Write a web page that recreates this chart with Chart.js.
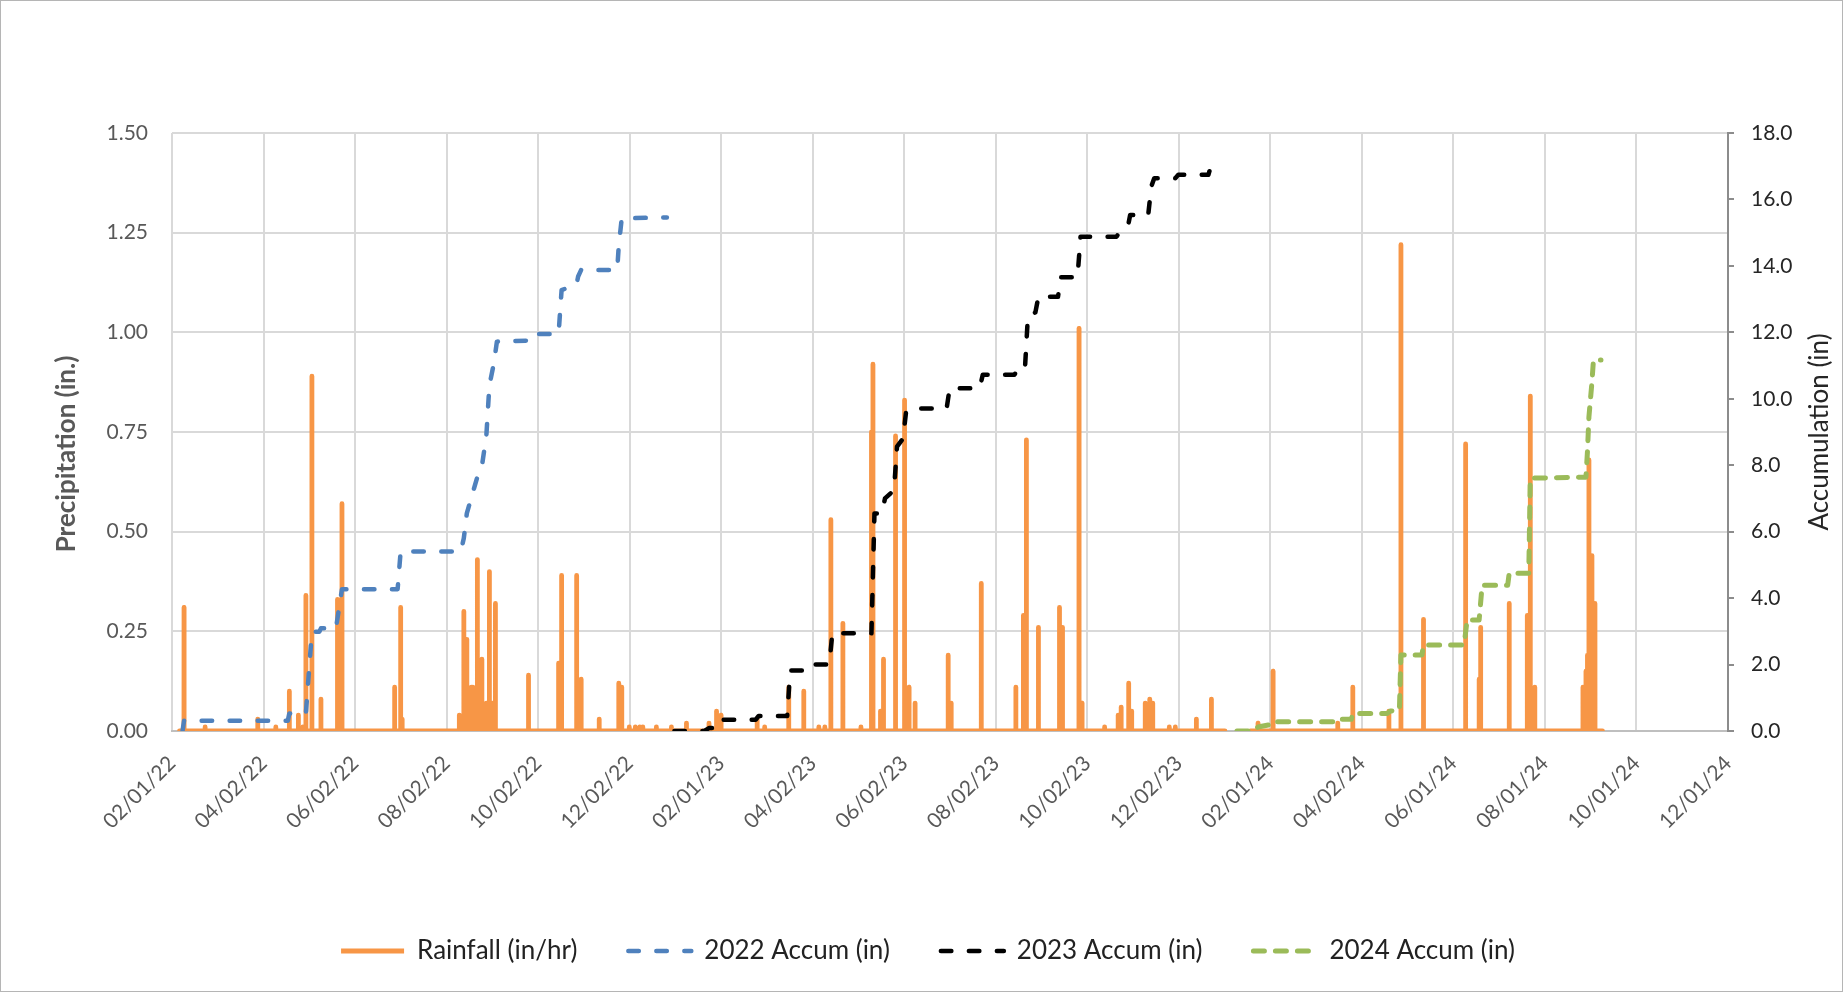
<!DOCTYPE html>
<html>
<head>
<meta charset="utf-8">
<script src="https://cdn.jsdelivr.net/npm/chart.js@4.4.1/dist/chart.umd.min.js"></script>
<style>
  html, body { margin: 0; padding: 0; background: #ffffff; }
  #wrap { position: relative; width: 1843px; height: 992px; }
  #frame { position: absolute; left: 0; top: 0; width: 1843px; height: 992px; box-sizing: border-box; border: 1px solid #b5b5b5; pointer-events: none; }
  canvas { display: block; }
</style>
</head>
<body>
<div id="wrap"><canvas id="chart" width="1843" height="992"></canvas><div id="frame"></div></div>
<script>
// ---------- axis labels ----------
const tickLabels = ['02/01/22','04/02/22','06/02/22','08/02/22','10/02/22','12/02/22',
                    '02/01/23','04/02/23','06/02/23','08/02/23','10/02/23','12/02/23',
                    '02/01/24','04/02/24','06/01/24','08/01/24','10/01/24','12/01/24'];
const leftTitle = 'Precipitation (in.)';
const rightTitle = 'Accumulation (in)';
const seriesNames = ['Rainfall (in/hr)', '2022 Accum (in)', '2023 Accum (in)', '2024 Accum (in)'];

// ---------- rainfall (in/hr): record period and storm peaks ----------
const rainStart = '2022-02-06';
const rainGapStart = '2024-01-02';
const rainGapEnd = '2024-01-19';
const rainEnd = '2024-09-09';
const rainDates = [
  '2022-02-09','2022-02-23','2022-03-30','2022-04-11','2022-04-20','2022-04-26','2022-04-29','2022-05-01','2022-05-05','2022-05-11',
  '2022-05-22','2022-05-25','2022-06-29','2022-07-03','2022-07-04','2022-08-11','2022-08-14','2022-08-16','2022-08-19','2022-08-20',
  '2022-08-23','2022-08-26','2022-08-29','2022-08-31','2022-09-02','2022-09-04','2022-09-26','2022-10-16','2022-10-18','2022-10-28',
  '2022-10-31','2022-11-12','2022-11-25','2022-11-27','2022-12-02','2022-12-06','2022-12-09','2022-12-11','2022-12-20','2022-12-30',
  '2023-01-09','2023-01-24','2023-01-29','2023-02-01','2023-02-25','2023-03-02','2023-03-18','2023-03-28','2023-04-07','2023-04-11',
  '2023-04-15','2023-04-23','2023-05-05','2023-05-12','2023-05-13','2023-05-18','2023-05-20','2023-05-28','2023-06-03','2023-06-06',
  '2023-06-10','2023-07-02','2023-07-04','2023-07-24','2023-08-16','2023-08-21','2023-08-23','2023-08-31','2023-09-14','2023-09-16',
  '2023-09-27','2023-09-29','2023-10-14','2023-10-23','2023-10-25','2023-10-30','2023-11-01','2023-11-10','2023-11-13','2023-11-15',
  '2023-11-26','2023-11-30','2023-12-14','2023-12-24',
  '2024-01-24','2024-02-03','2024-03-17','2024-03-27','2024-04-20','2024-04-28','2024-05-13','2024-06-10','2024-06-19','2024-06-20',
  '2024-07-09','2024-07-21','2024-07-23','2024-07-26','2024-08-27','2024-08-29','2024-08-30','2024-08-31','2024-09-02','2024-09-04'
];
const rainValues = [
  0.31,0.01,0.03,0.01,0.10,0.04,0.01,0.34,0.89,0.08,
  0.33,0.57,0.11,0.31,0.03,0.04,0.30,0.23,0.11,0.11,
  0.43,0.18,0.07,0.40,0.07,0.32,0.14,0.17,0.39,0.39,
  0.13,0.03,0.12,0.11,0.01,0.01,0.01,0.01,0.01,0.01,
  0.02,0.02,0.05,0.04,0.03,0.01,0.11,0.10,0.01,0.01,
  0.53,0.27,0.01,0.75,0.92,0.05,0.18,0.74,0.83,0.11,
  0.07,0.19,0.07,0.37,0.11,0.29,0.73,0.26,0.31,0.26,
  1.01,0.07,0.01,0.04,0.06,0.12,0.05,0.07,0.08,0.07,
  0.01,0.01,0.03,0.08,
  0.02,0.15,0.02,0.11,0.05,1.22,0.28,0.72,0.13,0.26,
  0.32,0.29,0.84,0.11,0.11,0.15,0.19,0.68,0.44,0.32
];

// ---------- yearly accumulation (in) ----------
const accum2022Dates = ['2022-02-08','2022-02-09','2022-04-19','2022-04-20','2022-05-01','2022-05-05','2022-05-10','2022-05-11','2022-05-21','2022-05-25',
  '2022-07-01','2022-07-03','2022-08-12','2022-08-14','2022-08-16','2022-08-23','2022-08-26','2022-08-29','2022-08-31','2022-09-03',
  '2022-09-05','2022-09-25','2022-09-27','2022-10-16','2022-10-18','2022-10-28','2022-10-29','2022-10-31','2022-11-24','2022-11-25',
  '2022-11-27','2022-12-27'];
const accum2022Values = [0,0.31,0.31,0.53,0.53,2.99,2.99,3.09,3.09,4.27,
  4.27,5.40,5.40,5.80,6.55,7.65,7.96,8.90,10.40,11.07,
  11.72,11.75,11.95,11.95,13.27,13.45,13.68,13.88,13.88,14.60,
  15.43,15.46];

const accum2023Dates = ['2023-01-01','2023-01-21','2023-01-24','2023-01-28','2023-01-30','2023-02-24','2023-02-26','2023-03-17','2023-03-19','2023-03-27',
  '2023-03-29','2023-04-14','2023-04-16','2023-05-12','2023-05-14','2023-05-19','2023-05-21','2023-05-27','2023-05-29','2023-06-02',
  '2023-06-04','2023-06-07','2023-07-01','2023-07-03','2023-07-23','2023-07-25','2023-08-15','2023-08-17','2023-08-22','2023-08-24',
  '2023-08-29','2023-08-31','2023-09-13','2023-09-15','2023-09-26','2023-09-28','2023-10-22','2023-10-25','2023-10-30','2023-10-31',
  '2023-11-12','2023-11-14','2023-11-16','2023-11-30','2023-12-02','2023-12-22','2023-12-24','2023-12-25'];
const accum2023Values = [0,0,0.09,0.09,0.34,0.34,0.45,0.45,1.82,1.82,
  2.00,2.00,2.94,2.94,6.55,6.55,7.00,7.25,8.56,8.80,
  9.60,9.71,9.71,10.32,10.32,10.72,10.72,10.87,10.87,12.47,
  12.60,13.07,13.07,13.66,13.66,14.88,14.88,15.10,15.30,15.53,
  15.53,16.38,16.64,16.64,16.74,16.74,17.05,17.10];

const accum2024Dates = ['2024-01-10','2024-01-21','2024-01-24','2024-02-02','2024-02-03','2024-03-16','2024-03-17','2024-03-26','2024-03-27','2024-04-19',
  '2024-04-21','2024-04-27','2024-04-28','2024-05-12','2024-05-13','2024-06-09','2024-06-11','2024-06-19','2024-06-21','2024-07-08',
  '2024-07-09','2024-07-22','2024-07-23','2024-08-29','2024-08-30','2024-08-31','2024-09-02','2024-09-03','2024-09-08'];
const accum2024Values = [0,0,0.12,0.20,0.28,0.28,0.35,0.35,0.53,0.53,
  0.60,0.63,2.29,2.29,2.59,2.59,3.34,3.34,4.39,4.39,
  4.75,4.75,7.61,7.64,8.40,9.46,10.50,11.17,11.17];

// ---------- helpers ----------
const DAY0 = Date.UTC(2022, 1, 1);
const DAYS_PER_MAJOR = 60.85;
function toDay(s) { const p = s.split('-').map(Number); return (Date.UTC(p[0], p[1] - 1, p[2]) - DAY0) / 864e5; }
function toPoints(dates, values) { return dates.map((d, i) => ({ x: toDay(d), y: values[i] })); }
function buildRain() {
  const hour = 1 / 24;
  const gS = toDay(rainGapStart), gE = toDay(rainGapEnd);
  const pts = [{ x: toDay(rainStart), y: 0 }];
  let gapDone = false;
  rainDates.forEach((d, i) => {
    const x = toDay(d);
    if (!gapDone && x > gS) { pts.push({ x: gS, y: 0 }, { x: (gS + gE) / 2, y: null }, { x: gE, y: 0 }); gapDone = true; }
    pts.push({ x: x - hour, y: 0 }, { x: x, y: rainValues[i] }, { x: x + hour, y: 0 });
  });
  pts.push({ x: toDay(rainEnd), y: 0 });
  return pts;
}

const FONT = 'Lato';
const TICK_FONT = { family: FONT, size: 21 };
const LEGEND_FS = 26;
const LEGEND_PAD = 51;
const BOTTOM_PAD = 18;
const LEFT_PAD = 13;
const PLOT = { left: 172, top: 133, right: 1728, bottom: 731 };
const W = 1843, H = 992;

const axisTitlePlugin = {
  id: 'axisTitles',
  afterDraw(chart) {
    const ctx = chart.ctx;
    const ca = chart.chartArea;
    const mid = (ca.top + ca.bottom) / 2;
    const draw = (text, x, y, font, color) => {
      ctx.save();
      ctx.translate(x, y);
      ctx.rotate(-Math.PI / 2);
      ctx.font = font;
      ctx.fillStyle = color;
      ctx.textAlign = 'center';
      ctx.textBaseline = 'middle';
      ctx.fillText(text, 0, 0);
      ctx.restore();
    };
    draw(leftTitle, 67, mid + 22, 'bold 26px ' + FONT, '#595959');
    draw(rightTitle, 1819.5, mid, '26px ' + FONT, '#262626');
  }
};

Chart.defaults.font.family = FONT;

new Chart(document.getElementById('chart'), {
  type: 'line',
  data: {
    datasets: [
      { label: seriesNames[0], data: buildRain(), yAxisID: 'y', borderColor: '#F79646', backgroundColor: '#F79646',
        borderWidth: 4.8, borderJoinStyle: 'round', borderCapStyle: 'round', pointRadius: 0, tension: 0, spanGaps: false, order: 4 },
      { label: seriesNames[1], data: toPoints(accum2022Dates, accum2022Values), yAxisID: 'y2', borderColor: '#4F81BD', backgroundColor: '#4F81BD',
        borderWidth: 4.5, borderDash: [10.5, 17.5], borderCapStyle: 'round', borderJoinStyle: 'round', pointRadius: 0, tension: 0, order: 3 },
      { label: seriesNames[2], data: toPoints(accum2023Dates, accum2023Values), yAxisID: 'y2', borderColor: '#000000', backgroundColor: '#000000',
        borderWidth: 4.5, borderDash: [10.5, 17.5], borderCapStyle: 'round', borderJoinStyle: 'round', pointRadius: 0, tension: 0, order: 2 },
      { label: seriesNames[3], data: toPoints(accum2024Dates, accum2024Values), yAxisID: 'y2', borderColor: '#9BBB59', backgroundColor: '#9BBB59',
        borderWidth: 5, borderDash: [11, 11], borderCapStyle: 'round', borderJoinStyle: 'round', pointRadius: 0, tension: 0, order: 1 }
    ]
  },
  options: {
    responsive: false,
    devicePixelRatio: 1,
    animation: false,
    events: [],
    layout: { padding: { top: PLOT.top, left: LEFT_PAD, right: 0, bottom: BOTTOM_PAD } },
    plugins: {
      tooltip: { enabled: false },
      title: { display: false },
      legend: {
        position: 'bottom',
        labels: {
          usePointStyle: true, pointStyle: 'line', pointStyleWidth: 63,
          font: { family: FONT, size: LEGEND_FS }, color: '#222222', padding: LEGEND_PAD,
          generateLabels: (chart) => chart.data.datasets.map((ds, i) => ({
            text: ds.label, datasetIndex: i, hidden: false,
            strokeStyle: ds.borderColor, fillStyle: ds.borderColor, fontColor: '#222222',
            lineWidth: ds.borderWidth, lineDash: ds.borderDash || [], lineDashOffset: 0,
            lineCap: ds.borderDash ? 'round' : 'butt', lineJoin: 'round', pointStyle: 'line', rotation: 0
          }))
        }
      }
    },
    scales: {
      x: {
        type: 'linear', min: 0, max: 17 * DAYS_PER_MAJOR,
        afterBuildTicks: (s) => { s.ticks = tickLabels.map((_, i) => ({ value: i * DAYS_PER_MAJOR })); },
        ticks: { autoSkip: false, maxRotation: 45, minRotation: 45, font: TICK_FONT, color: '#595959', padding: 20,
                 callback: (v, i) => tickLabels[i] },
        grid: { color: '#d9d9d9', lineWidth: 2, drawTicks: false },
        border: { display: true, color: '#bfbfbf', width: 2 },
        afterFit: (s) => { s.height = H - BOTTOM_PAD - (LEGEND_FS + LEGEND_PAD + 10) - PLOT.bottom; }
      },
      y: {
        position: 'left', min: 0, max: 1.5,
        ticks: { stepSize: 0.25, font: TICK_FONT, color: '#595959', padding: 24, callback: (v) => v.toFixed(2) },
        grid: { color: '#d9d9d9', lineWidth: 2, drawTicks: false },
        border: { display: false },
        afterFit: (s) => { s.width = PLOT.left - LEFT_PAD; }
      },
      y2: {
        position: 'right', min: 0, max: 18,
        ticks: { stepSize: 2, font: TICK_FONT, color: '#262626', padding: 17, callback: (v) => v.toFixed(1) },
        grid: { drawOnChartArea: false, drawTicks: true, tickLength: 6, color: '#8c8c8c', lineWidth: 2 },
        border: { display: true, color: '#8c8c8c', width: 2 },
        afterFit: (s) => { s.width = W - PLOT.right; }
      }
    }
  },
  plugins: [axisTitlePlugin]
});
</script>
</body>
</html>
